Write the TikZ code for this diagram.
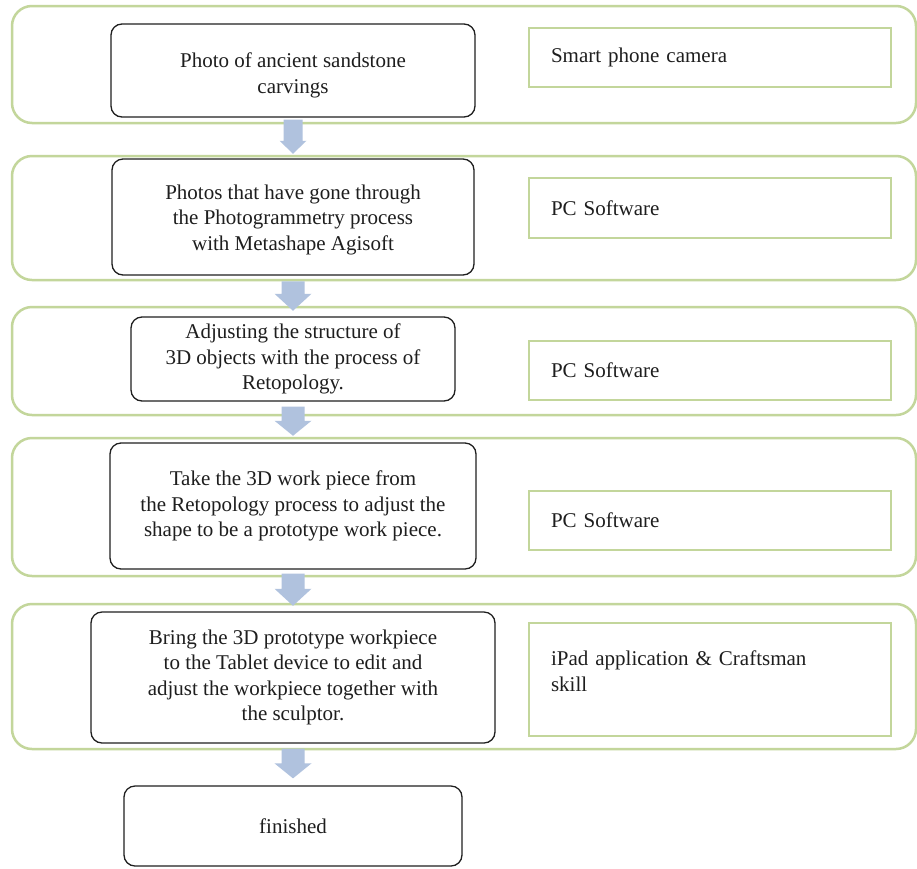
\documentclass[tikz,border=0pt]{standalone}
\usepackage{fontspec}
\setmainfont{Liberation Serif}
\usetikzlibrary{calc}
\definecolor{gborder}{RGB}{195,214,155}
\definecolor{ablue}{RGB}{176,194,222}
\definecolor{tcol}{RGB}{30,30,30}
\tikzset{
  arrshaft/.store in=\arrshaft, arrhead/.store in=\arrhead, arrlen/.store in=\arrlen,
  arrshaft=11.5pt, arrhead=18.5pt, arrlen=16pt,
  blockarrow/.style={fill=ablue, draw=none,
    to path={let \p1=(\tikztostart), \p2=(\tikztotarget) in
      (\x1-\arrshaft,\y1) -- (\x1+\arrshaft,\y1) -- (\x1+\arrshaft,\y2+\arrlen)
      -- (\x1+\arrhead,\y2+\arrlen) -- (\x1,\y2) -- (\x1-\arrhead,\y2+\arrlen)
      -- (\x1-\arrshaft,\y2+\arrlen) -- cycle}},
  groupbox/.style={draw=gborder, line width=2.5pt, rounded corners=20pt,
    minimum width=904pt, inner sep=0pt},
  stepbox/.style={draw=black!88, line width=1.3pt, rounded corners=11pt,
    align=center, inner sep=0pt, fill=white},
  toolbox/.style={draw=gborder, line width=2.2pt, minimum width=362pt,
    text width=318pt, inner xsep=22pt, inner ysep=0pt, align=left, fill=white}
}
\begin{document}
\begin{tikzpicture}[x=1pt,y=-1pt,
  every node/.style={font=\fontsize{21}{25.5}\selectfont, text=tcol}]
\useasboundingbox[fill=white] (0,0) rectangle (917,868);

% group frames
\node[groupbox, minimum height=117pt] (o1) at (464,64.5) {};
\node[groupbox, minimum height=124pt] (o2) at (464,218) {};
\node[groupbox, minimum height=108pt] (o3) at (464,361) {};
\node[groupbox, minimum height=138pt] (o4) at (464,507) {};
\node[groupbox, minimum height=145pt] (o5) at (464,676.5) {};

% process steps
\node[stepbox, minimum width=364pt, minimum height=93pt, text height=50pt] (b1) at (293,70.5)
  {Photo of ancient sandstone\\carvings};
\node[stepbox, minimum width=362pt, minimum height=116pt, text height=71.5pt] (b2) at (293,217)
  {Photos that have gone through\\the Photogrammetry process\\with Metashape Agisoft};
\node[stepbox, minimum width=324pt, minimum height=84pt] (b3) at (293,359)
  {Adjusting the structure of\\3D objects with the process of\\Retopology.};
\node[stepbox, minimum width=366pt, minimum height=126pt] (b4) at (293,506)
  {Take the 3D work piece from\\the Retopology process to adjust the\\shape to be a prototype work piece.};
\node[stepbox, minimum width=404pt, minimum height=131pt] (b5) at (293,677.5)
  {Bring the 3D prototype workpiece\\to the Tablet device to edit and\\adjust the workpiece together with\\the sculptor.};
\node[stepbox, minimum width=338pt, minimum height=80pt] (b6) at (293,826)
  {finished};

% tools
\node[toolbox, minimum height=59pt] (r1) at (710,57.5) {Smart phone camera};
\node[toolbox, minimum height=60pt] (r2) at (710,208) {PC Software};
\node[toolbox, minimum height=59pt] (r3) at (710,370.5) {PC Software};
\node[toolbox, minimum height=59pt] (r4) at (710,520.5) {PC Software};
\node[toolbox, minimum height=113pt, text depth=42pt] (r5) at (710,679.5)
  {iPad application \& Craftsman\\skill};

% block arrows
\coordinate (a1s) at ($(b1.south)+(0,2)$);
\coordinate (a1e) at ($(b1.south |- o2.north)+(0,-1)$);
\coordinate (a2s) at ($(b2.south |- o2.south)$);
\coordinate (a2e) at ($(b2.south |- o3.north)+(0,5)$);
\coordinate (a3s) at ($(b3.south)+(0,5)$);
\coordinate (a3e) at ($(b3.south |- o4.north)+(0,-1)$);
\coordinate (a4s) at ($(b4.south)+(0,4)$);
\coordinate (a4e) at ($(b4.south |- o5.north)+(0,3)$);
\coordinate (a5s) at ($(b5.south)+(0,5)$);
\coordinate (a5e) at ($(b6.north)+(0,-7)$);
\path[blockarrow, arrshaft=9.5pt, arrhead=13.5pt, arrlen=13pt] (a1s) to (a1e);
\path[blockarrow, arrlen=17pt] (a2s) to (a2e);
\path[blockarrow, arrlen=15pt] (a3s) to (a3e);
\path[blockarrow, arrlen=17pt] (a4s) to (a4e);
\path[blockarrow, arrlen=15pt] (a5s) to (a5e);
\end{tikzpicture}
\end{document}
